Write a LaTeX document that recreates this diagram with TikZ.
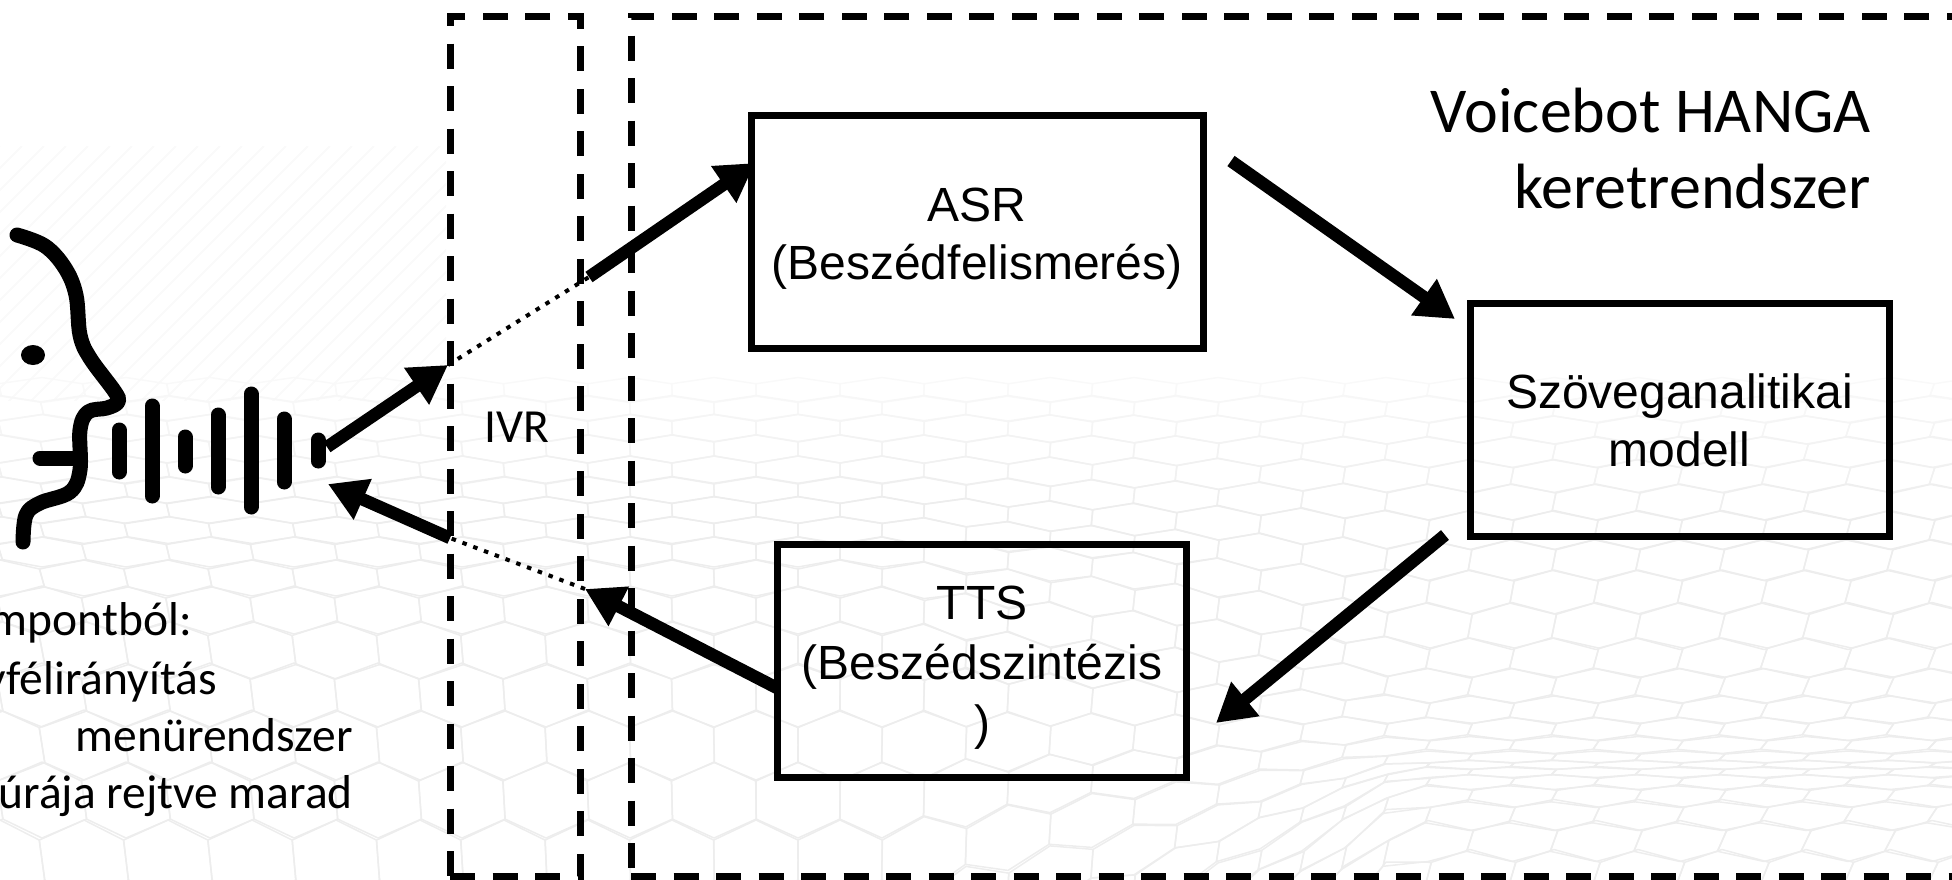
\documentclass[tikz,border=0pt]{standalone}
\usepackage{fontspec}
\setmainfont{Carlito}
\newfontfamily\arialfont{Liberation Sans}
\usetikzlibrary{arrows.meta}
\tikzstyle{block} = [draw, rectangle, line width=7pt]
\tikzstyle{boxtext} = [align=center, font=\arialfont\fontsize{48}{58}\selectfont]
\tikzstyle{frame} = [draw, rectangle, line width=7pt, dash pattern=on 25pt off 17.5pt]
\tikzstyle{data} = [inner sep=0pt, font=\fontsize{47.5}{57}\selectfont]
\tikzstyle{title} = [inner sep=0pt, align=right, font=\fontsize{64}{76}\selectfont]
\tikzstyle{to} = [-{Triangle[length=38pt,width=42pt]}, line width=12.5pt]
\tikzstyle{dots} = [line width=4pt, dash pattern=on 4.5pt off 7pt]
\tikzstyle{voice} = [line width=15pt, line cap=round, line join=round]
\tikzstyle{mesh} = [line width=1.5pt, line join=round]
\def\hexv#1#2{(\cx+#1, {(1-bl(\cx+#1))*(\cl+#2*\hl)+bl(\cx+#1)*(\cr+#2*\hr)})}

\begin{document}
\begin{tikzpicture}[x=1pt, y=-1pt, declare function={bl(\x)=min(1,max(0,(\x-900)/500));}]
	\useasboundingbox (0,0) rectangle (1952,879);
	% background stripes
	\begin{scope}
		\clip (0,146) rectangle (446,400);
		\foreach \s in {0,22,...,880}
			\draw [black!2, line width=2pt] (\s,146) -- (\s-260,406);
	\end{scope}
	% background mesh
	\foreach \cl/\hl/\cr/\hr [count=\k] in {390/25/390/25, 408/25/409/27, 428/27/430/28, 449/28/452/31, 470/28/476/33, 490/27/502/36, 510/27/530/39, 530/27/560/41, 552/30/592/44, 578/36/626/47, 610/48/658/40, 650/58/686/35, 695/64/710/28, 745/70/729/23, 800/76/745/17, 860/80/757/12, 925/85/765/9, 990/85/772/11, 1060/85/782/15, 1130/85/796/23, 1200/85/815/31, 1270/85/841/41, 1340/85/875/51} {
		\pgfmathsetmacro{\tint}{min(7,1.5+\k*0.8)}
		\foreach \c in {-1,...,24} {
			\pgfmathsetmacro{\cx}{\c*84+mod(\k,2)*42}
			\pgfmathsetmacro{\sk}{(\cx-800)/1600*0.25*(\hl+\hr)}
			\draw [mesh, black!\tint] \hexv{0}{-.5} -- \hexv{42+\sk/4}{-.25} -- \hexv{42-\sk/4}{.25} -- \hexv{0}{.5} -- \hexv{-42-\sk/4}{.25} -- \hexv{-42+\sk/4}{-.25} -- cycle;
		}
	}
	% frames
	\node (ivr) [frame, minimum width=130pt, minimum height=860pt] at (515,446) {};
	\node (bot) [frame, minimum width=1324pt, minimum height=860pt] at (1293,446) {};
	\node (ivrtext) [data] at (517,427) {IVR};
	\node (bottext) [title, anchor=north east] at (1871,88) {Voicebot HANGA\\keretrendszer};
	% blocks
	\node (asr) [block, minimum width=452pt, minimum height=233pt] at (977,231.5) {};
	\node (model) [block, minimum width=419pt, minimum height=233pt] at (1679.5,419.5) {};
	\node (tts) [block, minimum width=409pt, minimum height=233pt] at (982,660.5) {};
	\node (asrtext) [boxtext, yshift=-7pt] at (asr) {ASR\\(Beszédfelismerés)};
	\node (modeltext) [boxtext, yshift=-1pt] at (model) {Szöveganalitikai\\modell};
	\node (ttstext) [boxtext, yshift=-7pt, font=\arialfont\fontsize{48}{60}\selectfont] at (tts) {TTS\\(Beszédszintézis\\)};
	% speaker
	\draw [voice] plot [smooth, tension=.6] coordinates {(17,235) (45,246) (65,268) (76,295) (80,335) (90,358) (115,392) (118,402) (107,408) (88,412) (80,430) (80,470) (70,492) (40,503) (26,515) (23,542)};
	\draw [voice] (40,458) -- (80,458);
	\fill (33,355) ellipse (12pt and 10pt);
	\foreach \x/\a/\b in {119/430/472, 152/406/496, 185/437/466, 218/415/487, 251/394/507, 284/419/482, 318/440/461}
		\draw [voice] (\x,\a) -- (\x,\b);
	% left text
	\node (l1) [data, anchor=base east] at (192,635) {mpontból:};
	\node (l2) [data, anchor=base east] at (217,694) {yfélirányítás};
	\node (l3) [data, anchor=base east] at (353,751) {menürendszer};
	\node (l4) [data, anchor=base east] at (353,808) {úrája rejtve marad};
	% free ends
	\coordinate (speakout) at (327,447);
	\coordinate (speakin) at (328,484);
	\coordinate (ivrout) at (448,365);
	\coordinate (ivrin) at (450,538);
	\coordinate (botin) at (589,277);
	\coordinate (botout) at (585,589);
	\coordinate (asrin) at (755,163);
	\coordinate (asrout) at (1231,161);
	\coordinate (modelin) at (1455,319);
	\coordinate (modelout) at (1445,535);
	\coordinate (ttsin) at (1216,723);
	\coordinate (ttsout) at (777,688);
	% connectors
	\draw [to] (speakout) -- (ivrout);
	\draw [dots] (ivrout) -- (botin);
	\draw [to] (botin) -- (asrin);
	\draw [to] (asrout) -- (modelin);
	\draw [to] (modelout) -- (ttsin);
	\draw [to] (ttsout) -- (botout);
	\draw [dots] (botout) -- (ivrin);
	\draw [to] (ivrin) -- (speakin);
\end{tikzpicture}
\end{document}
